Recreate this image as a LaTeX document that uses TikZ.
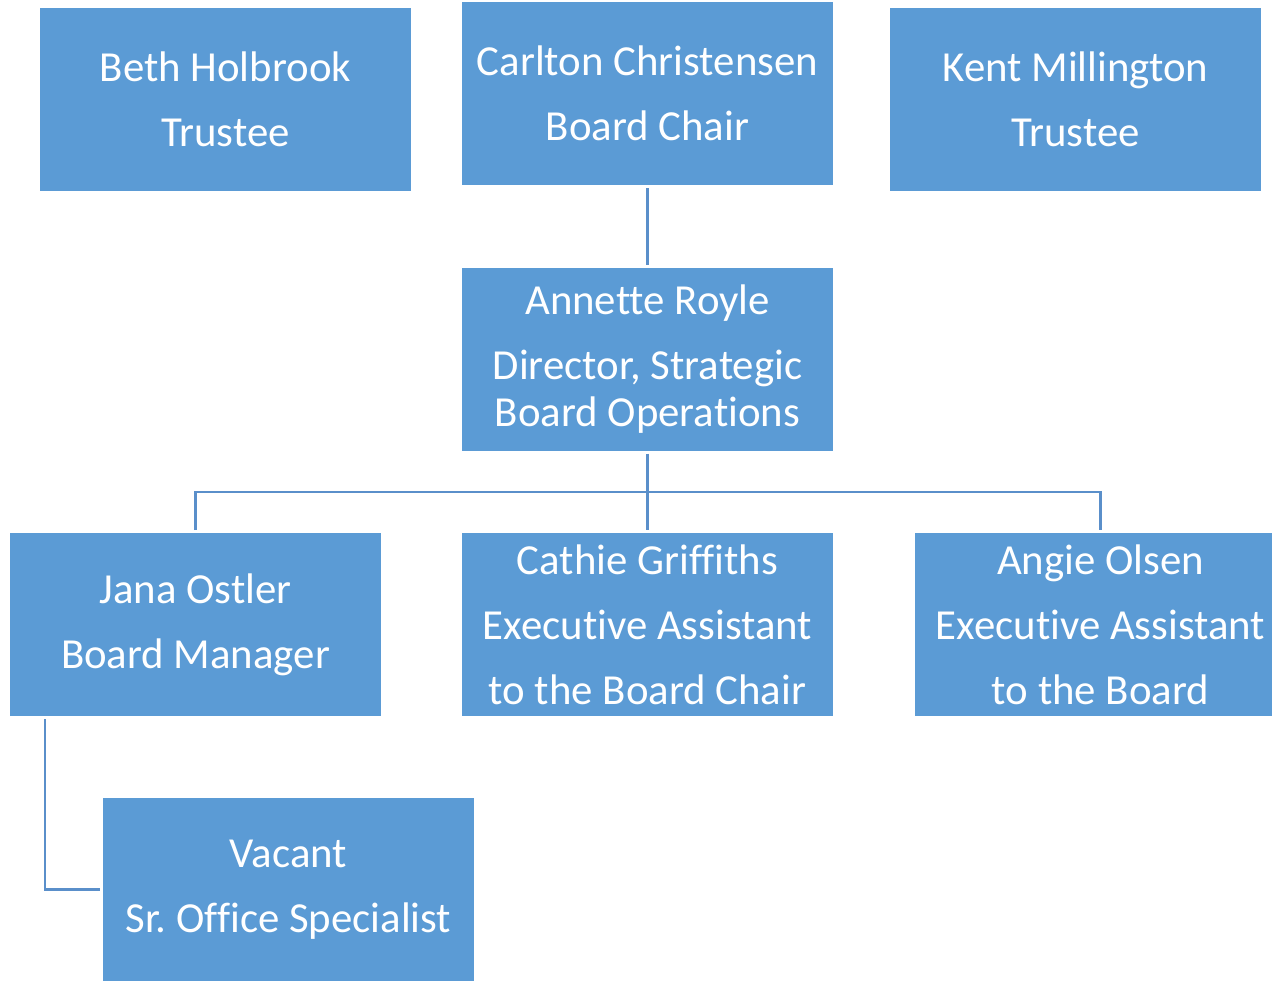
\documentclass[tikz,border=0pt]{standalone}
\usepackage{fontspec}
\setmainfont{Carlito}[Ligatures={NoCommon}]
\usepackage{xcolor}
\usepackage{tikz}
\usetikzlibrary{calc}

\definecolor{boxblue}{HTML}{5B9BD5}
\definecolor{lineblue}{HTML}{5A8FCA}

\begin{document}
\begin{tikzpicture}[x=0.5pt,y=-0.5pt,
  person/.style={fill=boxblue, draw=none, text=white, minimum width=185.5pt, minimum height=91.5pt,
    align=center, inner sep=0pt, outer sep=1.5pt, font=\fontsize{21.4}{32.5}\selectfont\frenchspacing},
  link/.style={draw=lineblue, line width=1.3pt}]

\useasboundingbox (0,0) rectangle (1272,980);

% Draw the board
\node[person] (beth) at (225.5,99.5) {Beth Holbrook\\Trustee};
\node[person] (carlton) at (647.5,93.5) {Carlton Christensen\\Board Chair};
\node[person] (kent) at (1075.5,99.5) {Kent Millington\\Trustee};

% Draw the director
\node[person] (annette) at (647.5,359) {Annette Royle\\Director, Strategic\\[-9pt]Board Operations};

% Draw the staff
\node[person] (jana) at (195.5,624.5) {Jana Ostler\\Board Manager};
\node[person] (cathie) at (647.5,624.5) {Cathie Griffiths\\Executive Assistant\\to the Board Chair};
\node[person] (angie) at (1100.5,624.5) {Angie Olsen\\Executive Assistant\\to the Board};
\node[person] (vacant) at (288.5,889.5) {Vacant\\Sr. Office Specialist};

% Draw the links
\coordinate (split) at (647.5,492);
\coordinate (drop) at (45,719);
\draw[link] (carlton) -- (annette);
\draw[link] (annette) -- (cathie);
\draw[link] (jana.north) |- (split) -| (angie.north);
\draw[link] (drop) |- (vacant.west);

\end{tikzpicture}
\end{document}
